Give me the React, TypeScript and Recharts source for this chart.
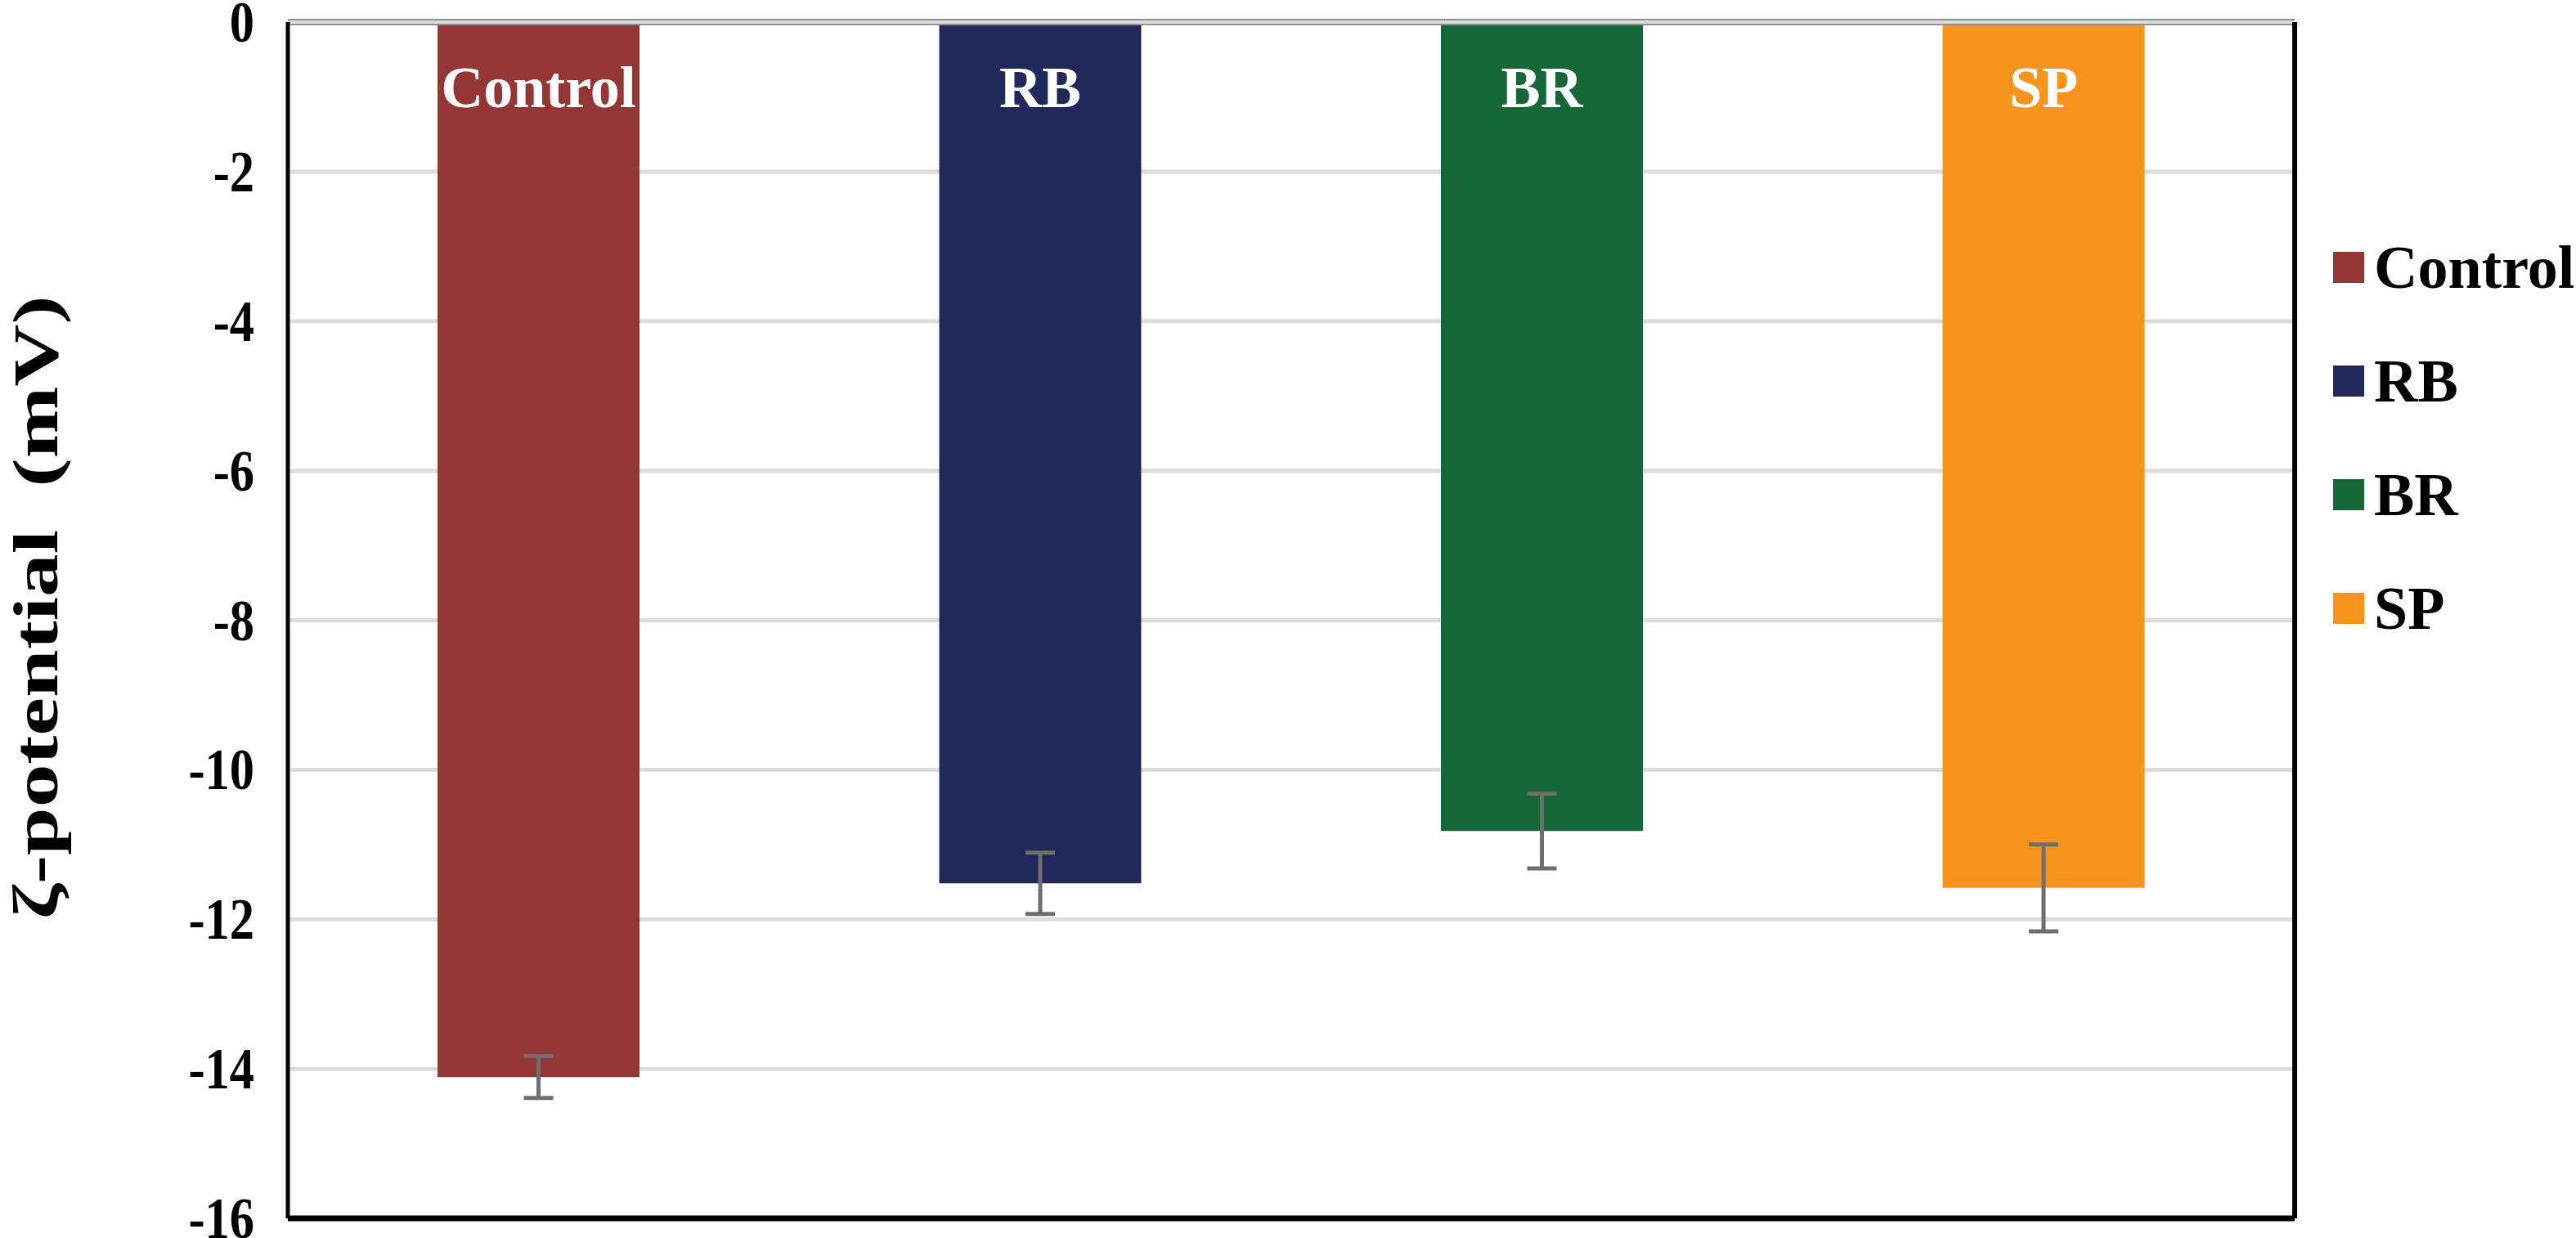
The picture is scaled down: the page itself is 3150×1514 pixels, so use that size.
import { BarChart, Bar, XAxis, YAxis, CartesianGrid, ReferenceLine, ErrorBar, Cell, LabelList, Legend } from 'recharts'

const groups = ['Control', 'RB', 'BR', 'SP']
const zeta = [-14.11, -11.52, -10.82, -11.58]
const zetaErr = [0.28, 0.41, 0.5, 0.58]
const colors = ['#943634', '#21285A', '#156737', '#F7941D']
const yTicks = [0, -2, -4, -6, -8, -10, -12, -14, -16]

const data = groups.map((name, i) => ({ name, value: zeta[i], err: zetaErr[i] }))

const serif = '"Liberation Serif", "Times New Roman", serif'

function BarName(props: any) {
  const { x, y, width, height, value } = props
  const top = Math.min(y, y + height)
  return (
    <text x={x + width / 2} y={top + 104} textAnchor="middle" fill="#fff" fontSize={72} fontWeight={700} fontFamily={serif}>
      {value}
    </text>
  )
}

function YTick(props: any) {
  const { x, y, payload } = props
  return (
    <text
      transform={`translate(${x}, ${y}) scale(0.84, 1)`}
      textAnchor="end"
      dy={24}
      fontSize={72}
      fontWeight={700}
      fontFamily={serif}
      fill="#000"
    >
      {payload.value}
    </text>
  )
}

function LegendBox() {
  return (
    <div style={{ fontFamily: serif, fontWeight: 700, fontSize: 74, color: '#000' }}>
      {groups.map((g, i) => (
        <div key={g} style={{ display: 'flex', alignItems: 'center', height: 139 }}>
          <span style={{ width: 38, height: 38, background: colors[i], marginRight: 12, display: 'inline-block' }} />
          <span style={{ lineHeight: 1 }}>{g}</span>
        </div>
      ))}
    </div>
  )
}

export default function App() {
  return (
    <div style={{ position: 'absolute', left: 0, top: 0, width: 3150, height: 1514, background: '#fff' }}>
      <BarChart width={3150} height={1514} data={data} margin={{ top: 27, right: 343, bottom: 23, left: 0 }}>
        <CartesianGrid vertical={false} stroke="#dcdcdc" strokeWidth={5} />
        <XAxis dataKey="name" tick={false} tickLine={false} height={1} axisLine={{ stroke: '#000', strokeWidth: 7 }} />
        <YAxis
          domain={[-16, 0]}
          ticks={yTicks}
          interval={0}
          width={352}
          tickLine={false}
          tickMargin={35}
          axisLine={{ stroke: '#000', strokeWidth: 5 }}
          tick={<YTick />}
          label={{
            content: () => (
              <text
                x={70}
                y={743}
                transform="rotate(-90, 70, 743)"
                textAnchor="middle"
                fontSize={78}
                fontWeight={700}
                fontFamily={serif}
                fill="#000"
                textLength={763}
                lengthAdjust="spacingAndGlyphs"
              >
                ζ-potential&#160;&#160;(mV)
              </text>
            ),
          }}
        />
        <YAxis yAxisId="r" orientation="right" domain={[-16, 0]} width={1} tick={false} tickLine={false} axisLine={{ stroke: '#000', strokeWidth: 6 }} />
        <Legend
          layout="vertical"
          align="center"
          verticalAlign="middle"
          content={() => <LegendBox />}
          wrapperStyle={{ left: 2853, top: 257, width: 297, height: 556 }}
        />
        <Bar dataKey="value" barSize={247} isAnimationActive={false}>
          {data.map((d, i) => (
            <Cell key={d.name} fill={colors[i]} />
          ))}
          <LabelList dataKey="name" content={BarName} />
          <ErrorBar dataKey="err" direction="y" width={18} strokeWidth={5} stroke="#6e6e6e" />
        </Bar>
        <ReferenceLine y={0} stroke="#8f8f8f" strokeWidth={8} />
        <ReferenceLine y={0} stroke="#dcdcdc" strokeWidth={4} />
      </BarChart>
    </div>
  )
}
